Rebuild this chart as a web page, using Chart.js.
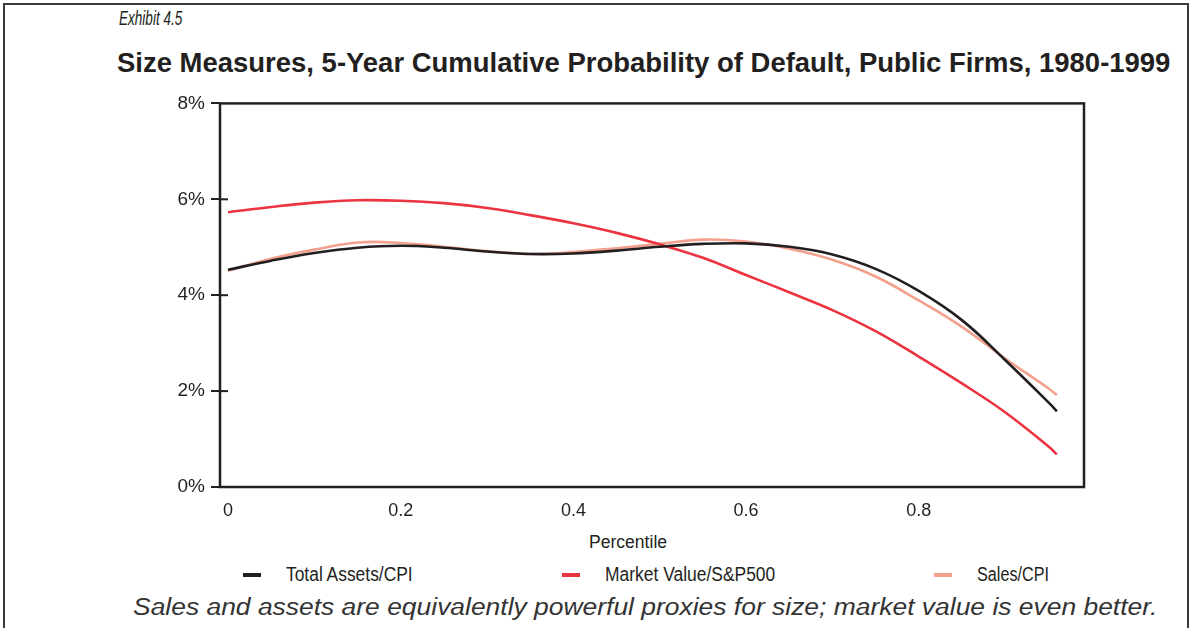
<!DOCTYPE html>
<html lang="en">
<head>
  <meta charset="UTF-8">
  <title>Size Measures, 5-Year Cumulative Probability of Default</title>
  <style>
    body { margin: 0; background: #fff; width: 1194px; height: 628px; overflow: hidden; position: relative;
      font-family: "Liberation Sans Narrow", "Arial Narrow", "Liberation Sans", Arial, sans-serif; color: #231f20; }
    #frame { position: absolute; left: 3px; top: 3px; width: 1182px; height: 700px; border: 2px solid #3a3a3a; }
    .txt { position: absolute; white-space: nowrap; transform-origin: left center; }
    #exhibit { left: 119px; top: 7px; font-size: 20px; font-style: italic; }
    #title { left: 117px; top: 48px; font-size: 27px; font-weight: bold; }
    #xlabel { left: 589px; top: 532px; font-size: 18px; }
    #caption { left: 133px; top: 594px; font-size: 23px; font-style: italic; font-family: "Liberation Sans", Arial, sans-serif; color: #333; }
    #legend .item { position: absolute; top: 563px; font-size: 20px; display: flex; align-items: center; }
    #legend .swatch { display: inline-block; width: 18px; height: 4px; margin-right: 25px; }
    #legend .name { display: inline-block; transform-origin: left center; }
    #chart-box { position: absolute; left: 160px; top: 86px; width: 940px; height: 441px; }
  </style>
</head>
<body>
  <div id="frame"></div>
  <div class="txt" id="exhibit">Exhibit 4.5</div>
  <div class="txt" id="title">Size Measures, 5-Year Cumulative Probability of Default, Public Firms, 1980-1999</div>
  <div id="chart-box"><canvas id="chart"></canvas></div>
  <div class="txt" id="xlabel">Percentile</div>
  <div id="legend"></div>
  <div class="txt" id="caption">Sales and assets are equivalently powerful proxies for size; market value is even better.</div>

  <script src="https://cdn.jsdelivr.net/npm/chart.js"></script>
  <script>
    // percentile grid the curves were read at
    const percentiles = [0, 0.05, 0.1, 0.15, 0.2, 0.25, 0.3, 0.35, 0.4, 0.45, 0.5,
                         0.55, 0.6, 0.65, 0.7, 0.75, 0.8, 0.85, 0.9, 0.95, 0.96];
    // 5-year cumulative default probability, in %
    const totalAssets = [4.53, 4.72, 4.88, 4.99, 5.03, 4.99, 4.91, 4.86, 4.87, 4.93, 5.01,
                         5.07, 5.08, 5.01, 4.85, 4.55, 4.09, 3.48, 2.65, 1.77, 1.58];
    const marketValue = [5.73, 5.84, 5.93, 5.98, 5.97, 5.92, 5.82, 5.67, 5.50, 5.30, 5.06,
                         4.78, 4.42, 4.06, 3.69, 3.25, 2.72, 2.16, 1.56, 0.85, 0.68];
    const salesCpi    = [4.51, 4.76, 4.95, 5.10, 5.09, 5.01, 4.92, 4.86, 4.90, 4.98, 5.07,
                         5.16, 5.12, 4.97, 4.74, 4.39, 3.89, 3.34, 2.68, 2.06, 1.92];
    const seriesNames = ['Total Assets/CPI', 'Market Value/S&P500', 'Sales/CPI'];
    const xTicks = [0, 0.2, 0.4, 0.6, 0.8];
    const yTicks = [0, 2, 4, 6, 8];

    const colors = ['#231f20', '#ec3340', '#f3a08c'];
    const legendLeft = [243, 562, 934];
    const legendWidth = [127, 170, 72];
    const fontFamily = '"Liberation Sans Narrow", "Arial Narrow", "Liberation Sans", Arial, sans-serif';

    // squeeze a text element to the width it has in the original
    function fitWidth(el, width) {
      el.style.transform = 'scaleX(' + (width / el.offsetWidth) + ')';
    }
    fitWidth(document.getElementById('title'), 1053);
    fitWidth(document.getElementById('caption'), 1025);
    fitWidth(document.getElementById('exhibit'), 63);
    fitWidth(document.getElementById('xlabel'), 78);

    const legend = document.getElementById('legend');
    seriesNames.forEach((name, i) => {
      const item = document.createElement('div');
      item.className = 'item';
      item.style.left = legendLeft[i] + 'px';
      const sw = document.createElement('span');
      sw.className = 'swatch';
      sw.style.background = colors[i];
      const label = document.createElement('span');
      label.className = 'name';
      label.textContent = name;
      item.appendChild(sw);
      item.appendChild(label);
      legend.appendChild(item);
      fitWidth(label, legendWidth[i]);
    });

    // box round the plot + tick marks that cross the y axis
    const frameBox = {
      id: 'frameBox',
      afterDatasetsDraw(chart) {
        const { ctx, chartArea: a, scales: { y } } = chart;
        ctx.save();
        ctx.strokeStyle = '#231f20';
        ctx.lineWidth = 2.5;
        ctx.strokeRect(a.left, a.top, a.right - a.left, a.bottom - a.top);
        ctx.lineWidth = 2;
        y.ticks.forEach((t, i) => {
          if (t.value <= y.min || t.value >= y.max) return;
          const py = y.getPixelForTick(i);
          ctx.beginPath();
          ctx.moveTo(a.left, py);
          ctx.lineTo(a.left + 8, py);
          ctx.stroke();
        });
        ctx.restore();
      }
    };

    const datasets = [totalAssets, marketValue, salesCpi].map((vals, i) => ({
      label: seriesNames[i],
      data: percentiles.map((p, j) => ({ x: p, y: vals[j] })),
      borderColor: colors[i],
      borderWidth: 2.6,
      pointRadius: 0,
      fill: false,
      tension: 0.4
    }));

    new Chart(document.getElementById('chart'), {
      type: 'line',
      data: { datasets },
      options: {
        responsive: true,
        maintainAspectRatio: false,
        animation: false,
        layout: { padding: { top: 13, right: 16, left: 0, bottom: 0 } },
        plugins: { legend: { display: false }, tooltip: { enabled: false } },
        scales: {
          x: {
            type: 'linear',
            min: -0.0093,
            max: 0.9914,
            afterBuildTicks: (scale) => { scale.ticks = xTicks.map(v => ({ value: v })); },
            afterFit: (scale) => { scale.height = 40; },
            grid: { display: false, drawTicks: false },
            border: { display: false },
            ticks: {
              padding: 13,
              color: '#231f20',
              font: { family: fontFamily, size: 18 },
              callback: (v) => String(v)
            }
          },
          y: {
            min: 0,
            max: 8,
            afterBuildTicks: (scale) => { scale.ticks = yTicks.map(v => ({ value: v })); },
            afterFit: (scale) => { scale.width = 60; },
            grid: { display: true, drawOnChartArea: false, drawTicks: true, tickLength: 9, color: '#231f20', lineWidth: 2 },
            border: { display: false },
            ticks: {
              padding: 6,
              color: '#231f20',
              font: { family: fontFamily, size: 19 },
              callback: (v) => v + '%'
            }
          }
        }
      },
      plugins: [frameBox]
    });
  </script>
</body>
</html>
